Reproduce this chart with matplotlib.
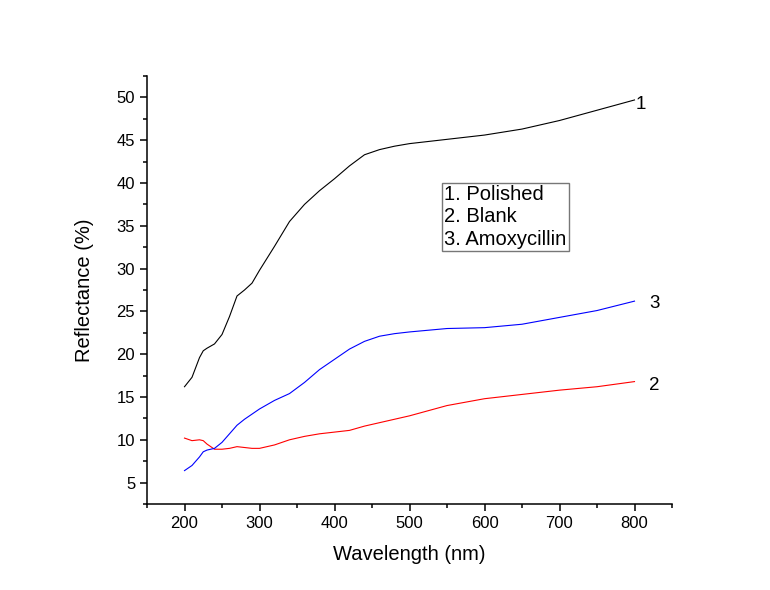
import matplotlib
matplotlib.use("Agg")
import matplotlib.pyplot as plt
from matplotlib.ticker import MultipleLocator

plt.rcParams['font.family'] = ['Liberation Sans', 'DejaVu Sans']

# wavelength grid (nm)
wavelength = [200, 210, 220, 225, 230, 240, 250, 260, 270, 280, 290, 300,
              320, 340, 360, 380, 400, 420, 440, 460, 480, 500,
              550, 600, 650, 700, 750, 800]

# reflectance (%)
polished = [16.2, 17.3, 19.6, 20.4, 20.7, 21.2, 22.3, 24.4, 26.8, 27.5, 28.3, 29.8,
            32.6, 35.5, 37.5, 39.1, 40.5, 42.0, 43.3, 43.9, 44.3, 44.6,
            45.1, 45.6, 46.3, 47.3, 48.5, 49.7]
blank = [10.2, 9.9, 10.0, 9.9, 9.5, 8.9, 8.9, 9.0, 9.2, 9.1, 9.0, 9.0,
         9.4, 10.0, 10.4, 10.7, 10.9, 11.1, 11.6, 12.0, 12.4, 12.8,
         14.0, 14.8, 15.3, 15.8, 16.2, 16.8]
amoxycillin = [6.4, 7.0, 8.0, 8.6, 8.8, 9.0, 9.7, 10.7, 11.7, 12.4, 13.0, 13.6,
               14.6, 15.4, 16.7, 18.2, 19.4, 20.6, 21.5, 22.1, 22.4, 22.6,
               23.0, 23.1, 23.5, 24.3, 25.1, 26.2]

legend_text = "1. Polished\n2. Blank\n3. Amoxycillin"

fig = plt.figure(figsize=(7.7, 5.9), dpi=100)
ax = fig.add_axes([147 / 770, 1 - 504 / 590, 525 / 770, 428 / 590])

ax.plot(wavelength, polished, color='black', linewidth=0.8)
ax.plot(wavelength, blank, color='red', linewidth=0.8)
ax.plot(wavelength, amoxycillin, color='blue', linewidth=0.8)

# curve numbers at the right end
ax.text(wavelength[-1] + 1, polished[-1] - 0.5, "1", fontsize=13.5, va='center', ha='left')
ax.text(wavelength[-1] + 20, amoxycillin[-1] - 0.3, "3", fontsize=13.5, va='center', ha='left')
ax.text(wavelength[-1] + 20, blank[-1] - 0.4, "2", fontsize=13.5, va='center', ha='left')

ax.text(0.566, 0.745, legend_text, transform=ax.transAxes, fontsize=14.5,
        va='top', ha='left', linespacing=1.22,
        bbox=dict(boxstyle='square,pad=0.12', fc='white', ec='#777777', lw=1))

ax.set_xlim(150, 850)
ax.set_ylim(2.5, 52.5)
ax.xaxis.set_major_locator(MultipleLocator(100))
ax.xaxis.set_minor_locator(MultipleLocator(50))
ax.yaxis.set_major_locator(MultipleLocator(5))
ax.yaxis.set_minor_locator(MultipleLocator(2.5))

ax.spines['top'].set_visible(False)
ax.spines['right'].set_visible(False)
for s in ['left', 'bottom']:
    ax.spines[s].set_linewidth(1.1)
ax.tick_params(which='major', direction='out', length=5, width=1.1, labelsize=12)
ax.tick_params(which='minor', direction='out', length=3, width=1.1)

ax.set_xlabel("Wavelength (nm)", fontsize=14.5, labelpad=10)
ax.set_ylabel("Reflectance (%)", fontsize=14.5, labelpad=16)

fig.savefig("out.png", dpi=100)
